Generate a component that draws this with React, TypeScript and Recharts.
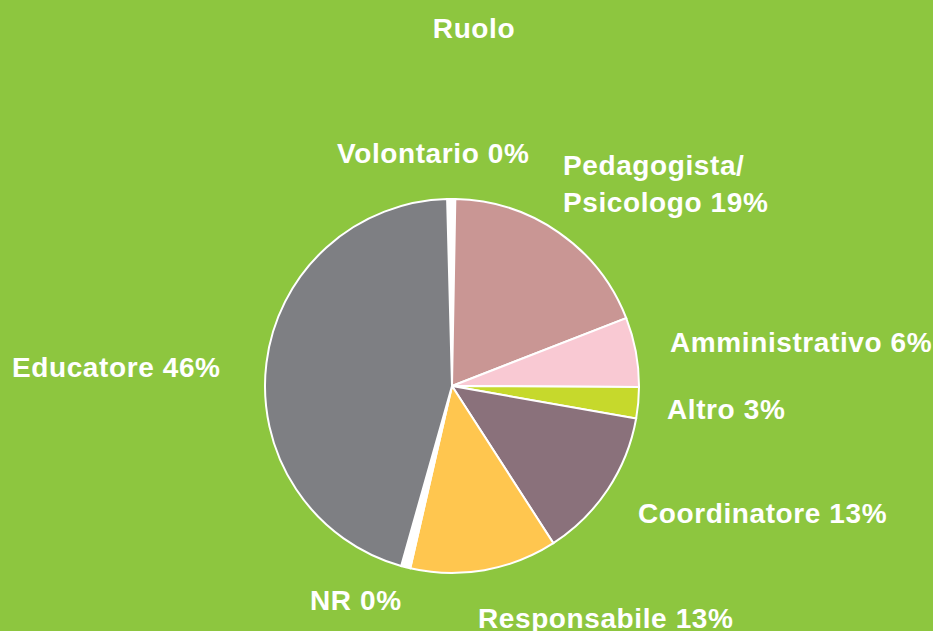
import React from 'react';
import { PieChart, Pie, Cell } from 'recharts';

const roles = ['Volontario', 'Pedagogista/\nPsicologo', 'Amministrativo', 'Altro', 'Coordinatore', 'Responsabile', 'NR', 'Educatore'];
const shares = [0.7, 18.8, 6.0, 2.7, 13.1, 12.7, 0.8, 45.2];
const shownPercents = ['0%', '19%', '6%', '3%', '13%', '13%', '0%', '46%'];

const COLORS = ['#FFFFFF', '#C99694', '#F9C9D3', '#C6D92C', '#8A717B', '#FFC64F', '#FFFFFF', '#7E7F83'];
const BG = '#8DC63F';
const FONT = "'Liberation Sans', Arial, sans-serif";

// label anchor (left/baseline) relative to pie centre
const LABEL_OFFSET = [
  [-115, -223],
  [111, -211],
  [218, -34],
  [215, 33],
  [186, 137],
  [26, 242],
  [-142, 224],
  [-440, -9],
];

const data = roles.map((name, i) => ({ name, value: shares[i], pct: shownPercents[i] }));

const renderLabel = (props: any) => {
  const { cx, cy, index } = props;
  const [dx, dy] = LABEL_OFFSET[index];
  const lines = (roles[index] + ' ' + shownPercents[index]).split('\n');
  return (
    <text x={cx + dx} y={cy + dy} fill="#fff" fontFamily={FONT} fontWeight="bold" fontSize={28} letterSpacing={0.6} textAnchor="start">
      {lines.map((l, k) => (
        <tspan key={k} x={cx + dx} dy={k === 0 ? 0 : 37}>{l}</tspan>
      ))}
    </text>
  );
};

export default function App() {
  return (
    <div style={{ position: 'absolute', left: 0, top: 0, width: 933, height: 631, background: BG, overflow: 'hidden' }}>
      <div style={{ position: 'absolute', left: 0, top: 13, width: 948, textAlign: 'center', color: '#fff', fontFamily: FONT, fontWeight: 'bold', fontSize: 28, letterSpacing: 0.6, lineHeight: '32px' }}>
        Ruolo
      </div>
      <PieChart width={933} height={631} margin={{ top: 0, right: 0, bottom: 0, left: 0 }}>
        <Pie
          data={data}
          dataKey="value"
          nameKey="name"
          cx={452}
          cy={386}
          outerRadius={187}
          startAngle={91.5}
          endAngle={-268.5}
          stroke="#fff"
          strokeWidth={2}
          label={renderLabel}
          labelLine={false}
          isAnimationActive={false}
        >
          {data.map((d, i) => (
            <Cell key={d.name} fill={COLORS[i]} />
          ))}
        </Pie>
      </PieChart>
    </div>
  );
}
